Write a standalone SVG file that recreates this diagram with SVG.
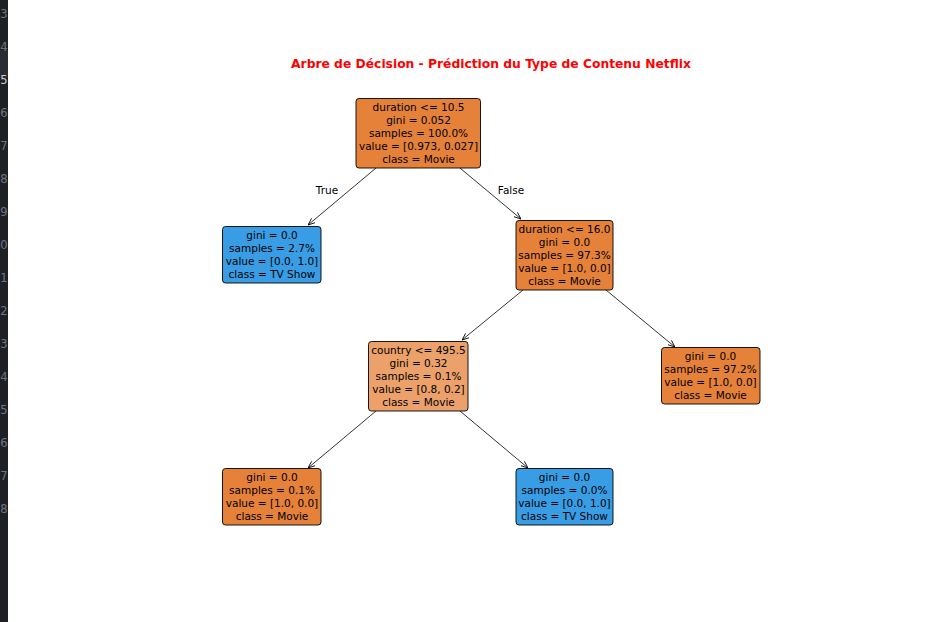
<svg xmlns="http://www.w3.org/2000/svg" width="945" height="622" viewBox="0 0 945 622">
<defs>
<marker id="ah" viewBox="0 0 10 10" refX="10" refY="5" markerWidth="7" markerHeight="7" orient="auto" markerUnits="userSpaceOnUse">
<path d="M0,1 L10,5 L0,9" fill="none" stroke="#000" stroke-width="1.2"/>
</marker>
<style>
.n{stroke:#000;stroke-width:0.9}
.t{font-family:"DejaVu Sans",sans-serif;font-size:10.5px;fill:#000;text-anchor:middle}
.e{stroke:#000;stroke-width:0.8;fill:none;marker-end:url(#ah)}
.g{font-family:"DejaVu Sans",sans-serif;font-size:11.5px;fill:#6e7681;text-anchor:start}
</style>
</defs>
<rect width="945" height="622" fill="#fff"/>
<g id="gutter">
<rect x="0" y="0" width="8" height="622" fill="#1f2024"/>
<rect x="0" y="50" width="8" height="28" fill="#2a2c31"/>
<text class="g" x="0.3" y="18">3</text>
<text class="g" x="0.3" y="51">4</text>
<text class="g" x="0.3" y="84" style="fill:#c8ccd4">5</text>
<text class="g" x="0.3" y="117">6</text>
<text class="g" x="0.3" y="150">7</text>
<text class="g" x="0.3" y="183">8</text>
<text class="g" x="0.3" y="216">9</text>
<text class="g" x="0.3" y="249">0</text>
<text class="g" x="0.3" y="282">1</text>
<text class="g" x="0.3" y="315">2</text>
<text class="g" x="0.3" y="348">3</text>
<text class="g" x="0.3" y="381">4</text>
<text class="g" x="0.3" y="414">5</text>
<text class="g" x="0.3" y="447">6</text>
<text class="g" x="0.3" y="480">7</text>
<text class="g" x="0.3" y="513">8</text>
</g>
<text x="491" y="68" font-family="DejaVu Sans, sans-serif" font-size="12.3" font-weight="bold" fill="#ff0000" text-anchor="middle">Arbre de Décision - Prédiction du Type de Contenu Netflix</text>
<g id="connectors">
<line class="e" x1="376" y1="168" x2="308" y2="225"/>
<line class="e" x1="460" y1="168" x2="521" y2="219"/>
<line class="e" x1="523" y1="290" x2="462" y2="340"/>
<line class="e" x1="606" y1="290" x2="675" y2="347"/>
<line class="e" x1="376" y1="411" x2="308" y2="468"/>
<line class="e" x1="460" y1="411" x2="528" y2="468"/>
<text class="t" x="327" y="194">True</text>
<text class="t" x="511" y="194">False</text>
</g>
<g id="root">
<rect class="n" x="356" y="98.5" width="124.5" height="69.5" rx="3" fill="#e58139"/>
<text class="t" x="418.5" y="111">duration &lt;= 10.5</text>
<text class="t" x="418.5" y="124">gini = 0.052</text>
<text class="t" x="418.5" y="137">samples = 100.0%</text>
<text class="t" x="418.5" y="150">value = [0.973, 0.027]</text>
<text class="t" x="418.5" y="163">class = Movie</text>
</g>
<g id="leaf-tv1">
<rect class="n" x="222.5" y="226.5" width="98.5" height="56.5" rx="3" fill="#399de5"/>
<text class="t" x="272" y="239">gini = 0.0</text>
<text class="t" x="272" y="252">samples = 2.7%</text>
<text class="t" x="272" y="265">value = [0.0, 1.0]</text>
<text class="t" x="272" y="278">class = TV Show</text>
</g>
<g id="dur16">
<rect class="n" x="516" y="220.5" width="97" height="69.5" rx="3" fill="#e58139"/>
<text class="t" x="564.5" y="233">duration &lt;= 16.0</text>
<text class="t" x="564.5" y="246">gini = 0.0</text>
<text class="t" x="564.5" y="259">samples = 97.3%</text>
<text class="t" x="564.5" y="272">value = [1.0, 0.0]</text>
<text class="t" x="564.5" y="285">class = Movie</text>
</g>
<g id="country">
<rect class="n" x="368.5" y="341.5" width="99.5" height="69.5" rx="3" fill="#eca06a"/>
<text class="t" x="418.5" y="354">country &lt;= 495.5</text>
<text class="t" x="418.5" y="367">gini = 0.32</text>
<text class="t" x="418.5" y="380">samples = 0.1%</text>
<text class="t" x="418.5" y="393">value = [0.8, 0.2]</text>
<text class="t" x="418.5" y="406">class = Movie</text>
</g>
<g id="leaf-movie972">
<rect class="n" x="661.5" y="347.5" width="98.5" height="56.5" rx="3" fill="#e58139"/>
<text class="t" x="710.5" y="360">gini = 0.0</text>
<text class="t" x="710.5" y="373">samples = 97.2%</text>
<text class="t" x="710.5" y="386">value = [1.0, 0.0]</text>
<text class="t" x="710.5" y="399">class = Movie</text>
</g>
<g id="leaf-movie01">
<rect class="n" x="222.5" y="468.5" width="98.5" height="56.5" rx="3" fill="#e58139"/>
<text class="t" x="272" y="481">gini = 0.0</text>
<text class="t" x="272" y="494">samples = 0.1%</text>
<text class="t" x="272" y="507">value = [1.0, 0.0]</text>
<text class="t" x="272" y="520">class = Movie</text>
</g>
<g id="leaf-tv2">
<rect class="n" x="516" y="468.5" width="97" height="56.5" rx="3" fill="#399de5"/>
<text class="t" x="564.5" y="481">gini = 0.0</text>
<text class="t" x="564.5" y="494">samples = 0.0%</text>
<text class="t" x="564.5" y="507">value = [0.0, 1.0]</text>
<text class="t" x="564.5" y="520">class = TV Show</text>
</g>
</svg>
